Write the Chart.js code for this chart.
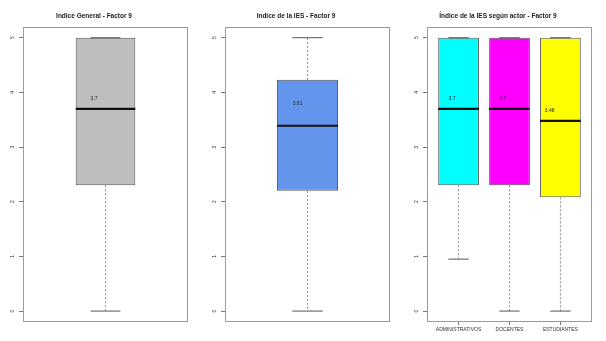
<!DOCTYPE html>
<html>
<head>
<meta charset="utf-8">
<script src="https://cdn.jsdelivr.net/npm/chart.js@4/dist/chart.umd.min.js"></script>
<style>
  body { margin: 0; background: #fff; }
  .panel { position: absolute; top: 0; width: 202px; height: 341px; }
</style>
</head>
<body>
<div class="panel" style="left:0"><canvas id="general" width="202" height="341"></canvas></div>
<div class="panel" style="left:202px"><canvas id="ies" width="202" height="341"></canvas></div>
<div class="panel" style="left:404px"><canvas id="actor" width="202" height="341"></canvas></div>
<script>
const yTicks = [0, 1, 2, 3, 4, 5];

// Indice General
const generalMin = [0];
const generalQ1 = [2.3];
const generalMedian = [3.7];
const generalQ3 = [5];
const generalMax = [5];
const generalLabel = [3.7];

// Indice de la IES
const iesMin = [0];
const iesQ1 = [2.2];
const iesMedian = [3.39];
const iesQ3 = [4.23];
const iesMax = [5];
const iesLabel = [3.61];

// por actor
const actors = ['ADMINISTRATIVOS', 'DOCENTES', 'ESTUDIANTES'];
const actorMin = [0.95, 0, 0];
const actorQ1 = [2.3, 2.3, 2.08];
const actorMedian = [3.7, 3.7, 3.48];
const actorQ3 = [5, 5, 5];
const actorMax = [5, 5, 5];
const actorLabel = [3.7, 3.7, 3.48];

const frameAndLabels = {
    id: 'frameAndLabels',
    afterDatasetsDraw(chart, args, opts) {
        const ctx = chart.ctx;
        const a = chart.chartArea;
        const xs = chart.scales.x, ys = chart.scales.y;
        ctx.save();
        ctx.fillStyle = '#222';
        ctx.font = '5px "Liberation Sans", Arial, sans-serif';
        ctx.textAlign = 'center';
        ctx.textBaseline = 'middle';
        opts.values.forEach((v, i) => {
            ctx.fillText(String(v), xs.getPixelForValue(opts.positions[i] + opts.shift[i]), ys.getPixelForValue(v + 0.19));
        });
        ctx.strokeStyle = '#9a9a9a';
        ctx.lineWidth = 1;
        ctx.strokeRect(Math.round(a.left) + 0.5, Math.round(a.top) + 0.5, Math.round(a.width) - 1, Math.round(a.height) - 1);
        ctx.restore();
    }
};

function segs(list) {
    // flatten segments, null point between them breaks the line
    return list.flatMap(s => [s[0], s[1], { x: s[0].x, y: null }]);
}

function makeBoxplot(id, cfg) {
    const pos = cfg.positions;
    const half = cfg.boxWidth / 2;
    const whiskers = segs(pos.flatMap((p, i) => [
        [{ x: p, y: cfg.q1[i] }, { x: p, y: cfg.min[i] }],
        [{ x: p, y: cfg.q3[i] }, { x: p, y: cfg.max[i] }]
    ]));
    const caps = segs(pos.flatMap((p, i) => [
        [{ x: p - half / 2, y: cfg.min[i] }, { x: p + half / 2, y: cfg.min[i] }],
        [{ x: p - half / 2, y: cfg.max[i] }, { x: p + half / 2, y: cfg.max[i] }]
    ]));
    const medians = segs(pos.map((p, i) => [{ x: p - half, y: cfg.median[i] }, { x: p + half, y: cfg.median[i] }]));

    const lineStyle = { type: 'line', pointRadius: 0, fill: false, spanGaps: false, tension: 0 };

    return new Chart(document.getElementById(id), {
        type: 'bar',
        data: {
            datasets: [
                {
                    type: 'bar',
                    data: pos.map((p, i) => ({ x: p, y: [cfg.q1[i], cfg.q3[i]] })),
                    backgroundColor: cfg.colors,
                    borderColor: '#555',
                    borderWidth: 1,
                    borderSkipped: false,
                    barPercentage: cfg.barPct,
                    categoryPercentage: 1,
                    order: 3
                },
                Object.assign({ data: whiskers, borderColor: '#8a8a8a', borderWidth: 1, borderDash: [2, 2], order: 4 }, lineStyle),
                Object.assign({ data: caps, borderColor: '#555', borderWidth: 1, order: 1 }, lineStyle),
                Object.assign({ data: medians, borderColor: '#111', borderWidth: 2.2, order: 0 }, lineStyle)
            ]
        },
        plugins: [frameAndLabels],
        options: {
            responsive: false,
            animation: false,
            events: [],
            layout: { padding: { left: 0, right: 14, top: 0, bottom: 0 } },
            plugins: {
                legend: { display: false },
                tooltip: { enabled: false },
                title: {
                    display: true,
                    text: cfg.title,
                    color: '#222',
                    font: { family: '"Liberation Sans", Arial, sans-serif', size: 6.5, weight: 'bold' },
                    padding: { top: 12, bottom: 7 }
                },
                frameAndLabels: { positions: pos, values: cfg.labels, shift: cfg.labelShift }
            },
            scales: {
                x: {
                    type: 'linear',
                    offset: false,
                    min: cfg.xMin,
                    max: cfg.xMax,
                    display: !!cfg.categories,
                    afterBuildTicks: s => { s.ticks = pos.map(p => ({ value: p })); },
                    afterFit: s => { s.height = 19; },
                    grid: { offset: false, drawOnChartArea: false, drawTicks: true, tickLength: 3, color: '#777' },
                    border: { display: false },
                    ticks: {
                        padding: 2,
                        maxRotation: 0,
                        color: '#333',
                        font: { family: '"Liberation Sans", Arial, sans-serif', size: 5 },
                        callback: v => cfg.categories ? cfg.categories[pos.indexOf(v)] : ''
                    }
                },
                y: {
                    type: 'linear',
                    min: -0.2,
                    max: 5.2,
                    afterBuildTicks: s => { s.ticks = yTicks.map(v => ({ value: v })); },
                    afterFit: s => { s.width = 23; },
                    grid: { drawOnChartArea: false, drawTicks: true, tickLength: 4, color: '#777' },
                    border: { display: false },
                    ticks: {
                        minRotation: 90,
                        maxRotation: 90,
                        crossAlign: 'center',
                        padding: 5,
                        color: '#333',
                        font: { family: '"Liberation Sans", Arial, sans-serif', size: 5 }
                    }
                }
            }
        }
    });
}

makeBoxplot('general', {
    title: 'Indice General - Factor 9',
    positions: [1], xMin: 0.46, xMax: 1.54, boxWidth: 0.39, barPct: 0.39 / 1.08,
    min: generalMin, q1: generalQ1, median: generalMedian, q3: generalQ3, max: generalMax,
    labels: generalLabel, labelShift: [-0.075],
    colors: ['#BEBEBE']
});

makeBoxplot('ies', {
    title: 'Indice de la IES - Factor 9',
    positions: [1], xMin: 0.46, xMax: 1.54, boxWidth: 0.4, barPct: 0.4 / 1.08,
    min: iesMin, q1: iesQ1, median: iesMedian, q3: iesQ3, max: iesMax,
    labels: iesLabel, labelShift: [-0.065],
    colors: ['#6495ED']
});

makeBoxplot('actor', {
    title: 'Índice de la IES según actor - Factor 9',
    positions: [1, 2, 3], xMin: 0.38, xMax: 3.62, boxWidth: 0.8, barPct: 0.8,
    min: actorMin, q1: actorQ1, median: actorMedian, q3: actorQ3, max: actorMax,
    labels: actorLabel, labelShift: [-0.13, -0.13, -0.21],
    categories: actors,
    colors: ['#00FFFF', '#FF00FF', '#FFFF00']
});
</script>
</body>
</html>
